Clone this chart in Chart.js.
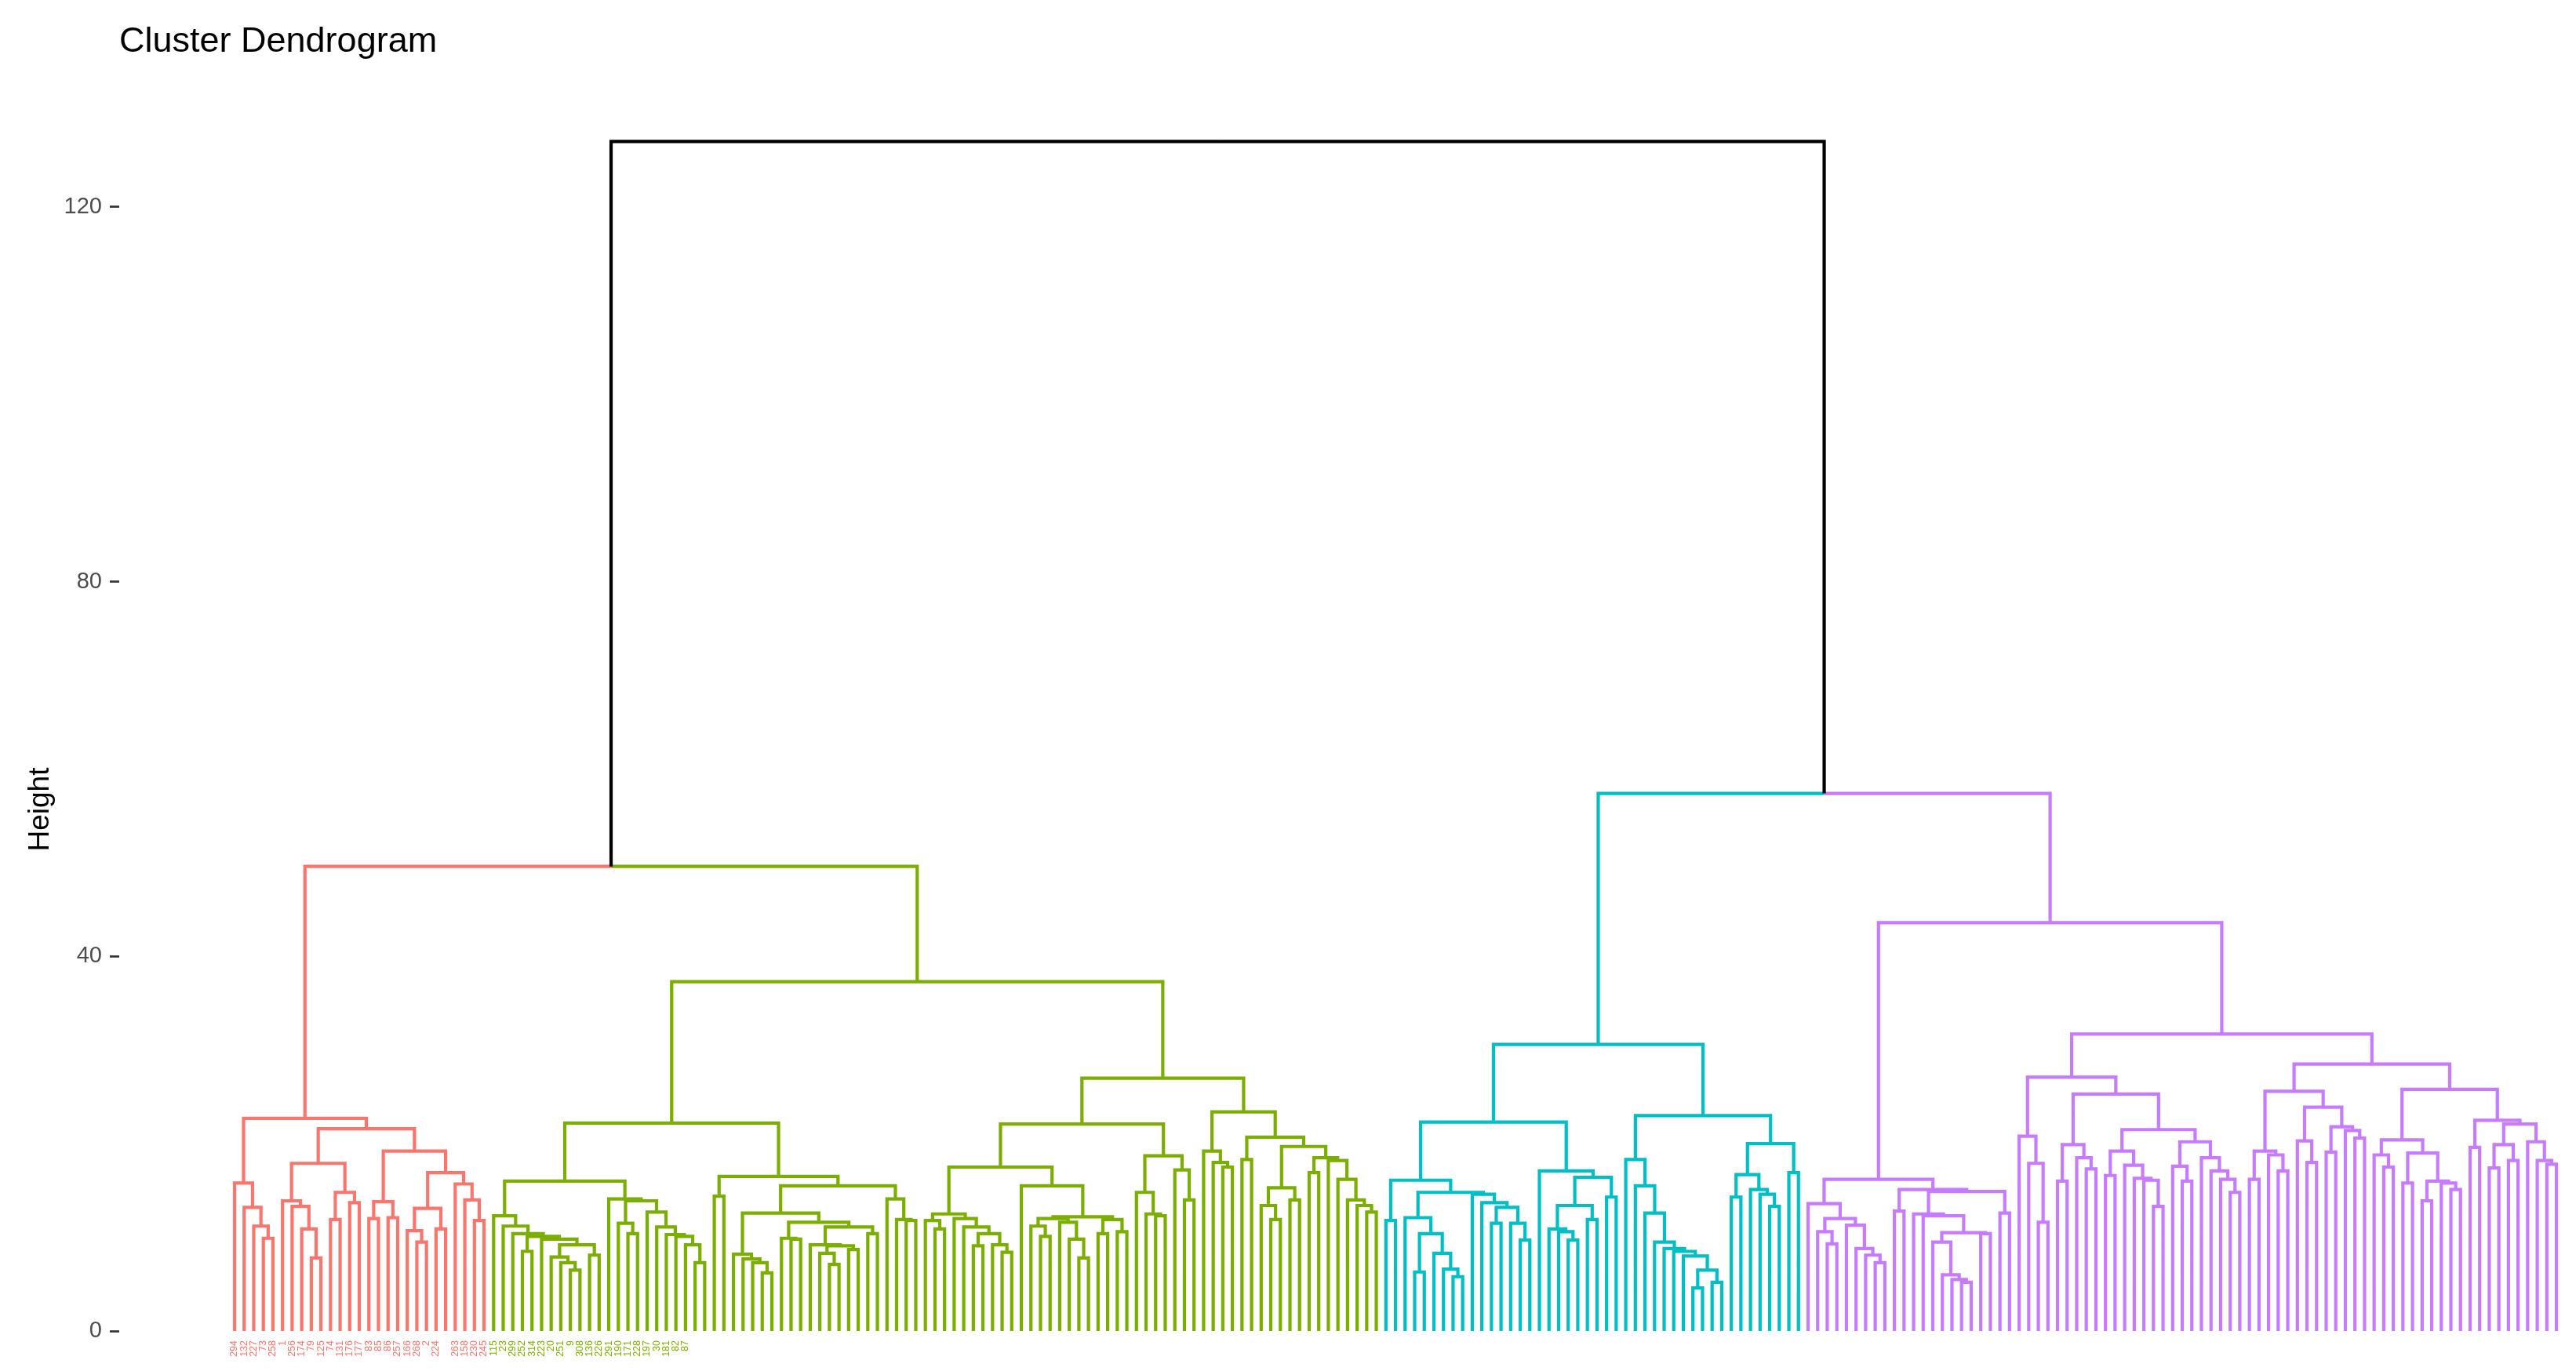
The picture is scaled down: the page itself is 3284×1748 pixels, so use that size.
<!DOCTYPE html>
<html>
<head>
<meta charset="utf-8">
<script src="https://cdn.jsdelivr.net/npm/chart.js@4.4.1/dist/chart.umd.min.js"></script>
<style>
  html, body { margin: 0; padding: 0; background: #ffffff; }
  #wrap { width: 3284px; height: 1748px; }
</style>
</head>
<body>
<div id="wrap"><canvas id="myChart" width="3284" height="1748"></canvas></div>
<script>
// DATA
// each cluster written as nested merges: "." is a leaf, "(a,b)h" joins a and b at height h
var redTree = `
((.,(.,(.,(.,.)9.9)11.2)13.2)15.8,
 (((.,(.,(.,(.,.)7.8)10.9)13.3)13.9,((.,.)11.9,(.,.)13.7)14.8)17.9,
  (((.,.)12.0,(.,.)12.1)13.8,(((.,(.,.)9.5)10.7,(.,.)10.9)13.1,(.,(.,(.,.)11.8)14.0)15.7)16.9)19.2)21.6)22.7`;

var greenTree = `
(
 (
  ((.,(.,(.,((.,.)8.5,(.,((.,(.,(.,.)6.5)7.3)7.9,(.,.)8.1)9.2)9.8)10.1)10.4)11.2)12.3,
   (.,((.,(.,.)10.4)11.5,(.,(.,(.,(.,(.,(.,.)7.3)9.2)10.1)10.3)11.1)12.7)13.9)14.1)16.0,
  ((.,.)14.4,
   (((.,(.,(.,(.,.)6.2)7.3)7.7)8.2,
     ((.,(.,.)9.8)9.9,((.,((.,(.,.)7.1)8.3,(.,.)8.7)9.1)9.2,(.,.)10.4)11.1)11.6)12.6,
    (.,(.,(.,.)11.8)11.9)14.1)15.5)16.5
 )22.2,
 (
  (
   (((.,(.,.)10.9)11.8,(.,(.,((.,.)9.1,(.,(.,.)8.4)9.2)10.4)11.1)12.0)12.5,
    (.,(((.,(.,.)10.1)11.2,(.,(.,(.,.)7.8)9.8)11.6)12.0,((.,.)10.4,(.,.)10.6)11.9)12.2)15.5)17.5,
   ((.,(.,(.,.)12.3)12.5)14.8,(.,(.,.)14.0)17.2)18.7
  )22.1,
  (
   (.,(.,(.,.)17.5)18.0)19.2,
   ((.,.)18.3,(((.,(.,.)11.9)13.4,(.,.)14.0)15.3,((.,.)16.9,(.,(.,(.,(.,(.,.)12.7)13.4)14.0)16.2)18.2)18.5)19.7)20.7
  )23.4
 )27.0
)37.3`;

var cyanTree = `
(
 (
  ((.,.)11.8,
   ((.,((.,.)6.3,(.,(.,(.,.)5.8)6.6)8.3)10.4)12.1,
    (.,(.,((.,.)11.5,(.,(.,.)9.7)11.5)13.2)13.7)14.6)14.8)16.1,
  (.,(((.,(.,(.,.)9.7)10.6)10.9,(.,.)11.9)13.4,(.,.)14.3)16.4)17.1
 )22.3,
 (
  (.,(.,(.,(.,(.,(.,(.,((.,.)4.6,(.,.)5.2)6.5)8.0)8.5)8.8)9.5)12.6)15.5)18.3,
  (((.,.)14.3,(.,(.,(.,.)13.3)14.6)15.1)16.7,(.,.)16.9)20.0
 )23.0
)30.6`;

var purpleTree = `
(
 (
  (.,((.,(.,.)9.3)10.6,(.,(.,(.,(.,.)7.3)8.1)8.8)11.3)12.0)13.6,
  ((.,.)12.8,((.,(.,((.,(.,(.,(.,.)5.2)5.5)6.0)9.5,(.,.)10.4)10.5)12.3)12.5,(.,.)12.6)14.9)15.1
 )16.2,
 (
  (
   (.,(.,(.,.)11.6)17.9)20.8,
   (((.,.)16.0,(.,(.,.)17.3)18.5)19.9,
    (((.,.)16.6,(.,(.,(.,(.,.)13.3)16.1)16.3)17.7)19.2,((.,(.,.)16.0)17.6,(.,(.,(.,(.,.)14.8)16.2)17.1)18.5)20.2)21.5)25.3
  )27.1,
  (
   (((.,.)16.2,(.,(.,.)17.1)18.8)19.2,((.,(.,.)18.0)20.3,((.,.)19.1,(.,(.,.)20.6)21.4)21.8)23.9)25.6,
   (((.,(.,.)17.5)18.8,((.,.)15.8,((.,.)13.9,(.,(.,.)15.1)15.8)16.0)19.0)20.4,((.,.)19.6,(((.,.)17.4,(.,.)18.2)19.9,(.,(.,(.,.)17.8)18.2)20.2)22.1)22.5)25.8
  )28.5
 )31.7
)43.6`;

// red+green, cyan+purple, top
var upperHeights = [49.6, 57.4, 127.0];
var clusterColors = ['#F8766D', '#7CAE00', '#00BFC4', '#C77CFF'];
var yTicks = [0, 40, 80, 120];

var leafLabels = ['294','132','227','73','258','1','256','174','79','125','74','131','176','177','83','85','86','257','166','268','2','224','','263','158','230','245',
  '115','23','299','252','314','223','20','251','9','308','136','226','291','190','171','228','197','30','181','82','87'];
while (leafLabels.length < 243) leafLabels.push('');

// read "(a,b)h" text into nodes
var parseTree = function (text) {
  var s = text.replace(/\s+/g, '');
  var pos = 0;
  var read = function () {
    if (s[pos] === '.') { pos += 1; return { leaf: true }; }
    pos += 1;
    var left = read();
    pos += 1;
    var right = read();
    pos += 1;
    var start = pos;
    while (pos < s.length && /[0-9.]/.test(s[pos])) pos += 1;
    return { h: parseFloat(s.slice(start, pos)), kids: [left, right] };
  };
  return read();
};

var trees = [redTree, greenTree, cyanTree, purpleTree].map(parseTree);
trees.forEach(function (t, i) { t.cluster = i; });
var root = {
  h: upperHeights[2],
  kids: [{ h: upperHeights[0], kids: [trees[0], trees[1]] },
         { h: upperHeights[1], kids: [trees[2], trees[3]] }]
};

var leafColor = [];
var counter = 0;
var place = function (node, color) {
  if (node.cluster !== undefined) color = clusterColors[node.cluster];
  node.color = color;
  if (node.leaf) {
    node.x = counter; node.h = 0;
    leafColor.push(color);
    counter += 1;
    return;
  }
  place(node.kids[0], color);
  place(node.kids[1], color);
  node.x = (node.kids[0].x + node.kids[1].x) / 2;
};
place(root, '#000000');

// one polyline per edge: across at the parent height, then down to the child
var segs = {};
var collect = function (node) {
  if (node.leaf) return;
  node.kids.forEach(function (kid) {
    if (!segs[kid.color]) segs[kid.color] = [];
    segs[kid.color].push({ x: node.x, y: node.h }, { x: kid.x, y: node.h },
                         { x: kid.x, y: kid.h }, { x: kid.x, y: null });
    collect(kid);
  });
};
collect(root);

var fontFamily = '"Liberation Sans", Arial, sans-serif';
var datasets = Object.keys(segs).map(function (c) {
  return {
    data: segs[c], borderColor: c, borderWidth: 4.2,
    pointRadius: 0, fill: false, tension: 0, spanGaps: false,
    borderJoinStyle: 'miter', borderCapStyle: 'butt'
  };
});

// y title sits lower than the middle of the plot in the reference
var yTitle = {
  id: 'yTitle',
  afterDraw: function (chart) {
    var c = chart.ctx;
    c.save();
    c.translate(52, 1032);
    c.rotate(-Math.PI / 2);
    c.font = '37px ' + fontFamily;
    c.fillStyle = '#000000';
    c.textAlign = 'center';
    c.textBaseline = 'middle';
    c.fillText('Height', 0, 0);
    c.restore();
  }
};

var lastLeaf = counter - 1;
var myChart = new Chart(document.getElementById('myChart'), {
  type: 'line',
  data: { datasets: datasets },
  plugins: [yTitle],
  options: {
    responsive: false,
    animation: false,
    devicePixelRatio: 1,
    layout: { padding: 0 },
    plugins: {
      legend: { display: false },
      tooltip: { enabled: false },
      title: {
        display: true, text: 'Cluster Dendrogram', align: 'start', fullSize: false,
        color: '#000000', font: { family: fontFamily, size: 45, weight: 'normal' },
        padding: { top: 27, bottom: 19 }
      }
    },
    scales: {
      x: {
        type: 'linear',
        min: -12.02, max: lastLeaf + 2.04,
        grid: { display: false }, border: { display: false },
        afterBuildTicks: function (axis) {
          axis.ticks = leafLabels.map(function (l, i) { return { value: i }; });
        },
        afterFit: function (axis) { axis.height = 51; },
        ticks: {
          autoSkip: false, minRotation: 90, maxRotation: 90, padding: 4,
          font: { family: fontFamily, size: 12.5 },
          color: function (ctx) { return leafColor[ctx.index]; },
          callback: function (v) { return leafLabels[v]; }
        }
      },
      y: {
        type: 'linear',
        min: 0, max: 133.73,
        border: { display: false },
        grid: { display: true, drawOnChartArea: false, drawTicks: true, tickLength: 12,
                tickColor: '#333333', tickWidth: 2.7 },
        afterBuildTicks: function (axis) {
          axis.ticks = yTicks.map(function (v) { return { value: v }; });
        },
        afterFit: function (axis) { axis.width = 152; },
        ticks: { padding: 10, color: '#4D4D4D', font: { family: fontFamily, size: 29 } },
        title: { display: false }
      }
    }
  }
});
</script>
</body>
</html>
